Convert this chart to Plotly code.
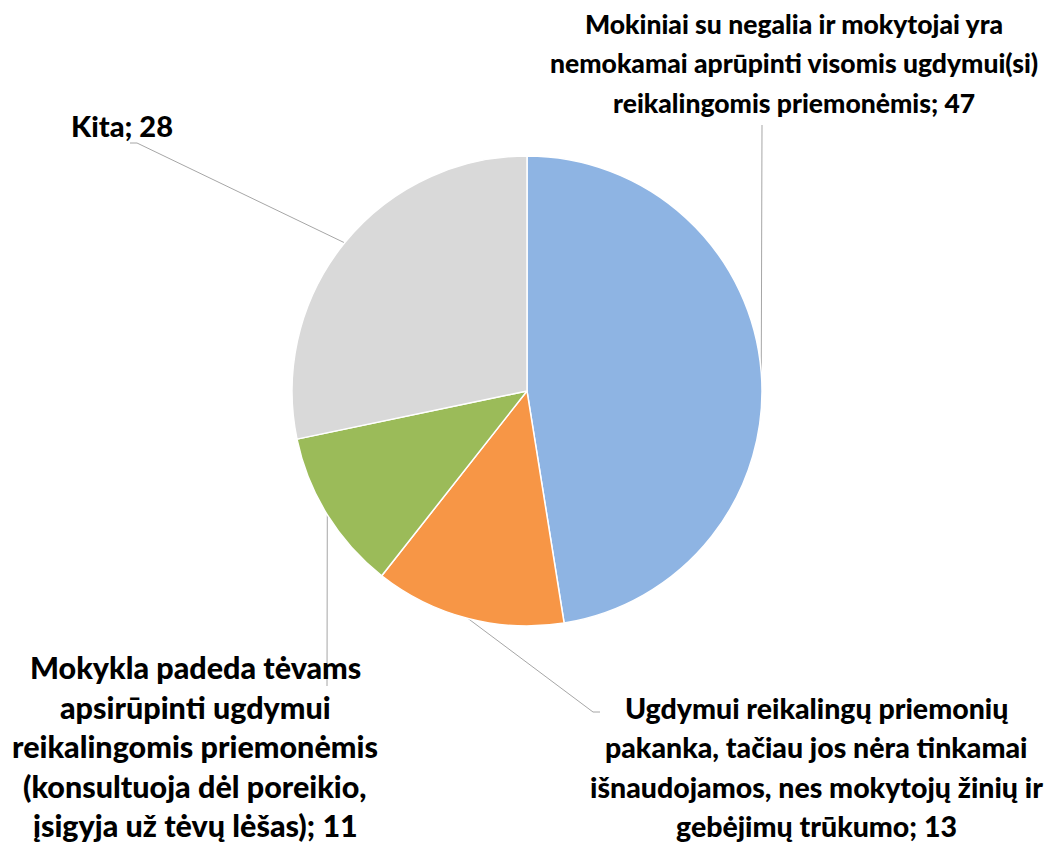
import math
import plotly.graph_objects as go

# Survey answers (clockwise from 12 o'clock)
labels = [
    "Mokiniai su negalia ir mokytojai yra nemokamai aprūpinti visomis ugdymui(si) reikalingomis priemonėmis",
    "Ugdymui reikalingų priemonių pakanka, tačiau jos nėra tinkamai išnaudojamos, nes mokytojų žinių ir gebėjimų trūkumo",
    "Mokykla padeda tėvams apsirūpinti ugdymui reikalingomis priemonėmis (konsultuoja dėl poreikio, įsigyja už tėvų lėšas)",
    "Kita",
]
values = [47, 13, 11, 28]
colors = ["#8EB4E3", "#F79646", "#9BBB59", "#D9D9D9"]

# Label text broken into display lines
label_lines = [
    ["Mokiniai su negalia ir mokytojai yra",
     "nemokamai aprūpinti visomis ugdymui(si)",
     "reikalingomis priemonėmis; 47"],
    ["Ugdymui reikalingų priemonių",
     "pakanka, tačiau jos nėra tinkamai",
     "išnaudojamos, nes mokytojų žinių ir",
     "gebėjimų trūkumo; 13"],
    ["Mokykla padeda tėvams",
     "apsirūpinti ugdymui",
     "reikalingomis priemonėmis",
     "(konsultuoja dėl poreikio,",
     "įsigyja už tėvų lėšas); 11"],
    ["Kita; 28"],
]

W, H = 1054, 844
CX, CY, R = 527, 391, 235          # pie centre and radius in pixels
LINE_H = 39.5

# Per-label font sizes, block centres and leader-line elbows (pixels)
label_size = [26.5, 28.5, 30.5, 29]
label_pos = [(794, 63), (816, 767), (195, 746), (122, 125)]
elbows = [[(762, 125)], [(593, 712), (600, 712)], [(327, 686)], [(137, 143), (130, 143)]]

fig = go.Figure()
fig.add_trace(go.Pie(
    labels=labels, values=values, sort=False, direction="clockwise",
    rotation=0, marker=dict(colors=colors, line=dict(color="white", width=1.5)),
    textinfo="none", hoverinfo="label+value", showlegend=False,
    domain=dict(x=[(CX - R) / W, (CX + R) / W], y=[1 - (CY + R) / H, 1 - (CY - R) / H]),
))

# Leader lines from each slice's mid-angle on the rim to its label
total = sum(values)
cum = 0
annotations = []
for i, v in enumerate(values):
    mid = (cum + v / 2) / total * 2 * math.pi
    cum += v
    px = CX + R * math.sin(mid)
    py = CY - R * math.cos(mid)
    xs = [px] + [p[0] for p in elbows[i]]
    ys = [py] + [p[1] for p in elbows[i]]
    fig.add_trace(go.Scatter(x=xs, y=ys, mode="lines", xaxis="x", yaxis="y",
                             line=dict(color="#A6A6A6", width=1),
                             hoverinfo="skip", showlegend=False))
    lx, ly = label_pos[i]
    n = len(label_lines[i])
    for k, line in enumerate(label_lines[i]):
        annotations.append(dict(
            x=lx, y=ly + (k - (n - 1) / 2) * LINE_H, xref="x", yref="y",
            text=line, showarrow=False,
            font=dict(family="Lato", size=label_size[i], color="black", weight=900),
            xanchor="center", yanchor="middle",
        ))

fig.update_layout(
    width=W, height=H, margin=dict(l=0, r=0, t=0, b=0),
    paper_bgcolor="white", plot_bgcolor="rgba(0,0,0,0)",
    xaxis=dict(range=[0, W], visible=False, fixedrange=True),
    yaxis=dict(range=[H, 0], visible=False, fixedrange=True),
    annotations=annotations,
)

fig.write_html("out.html")
